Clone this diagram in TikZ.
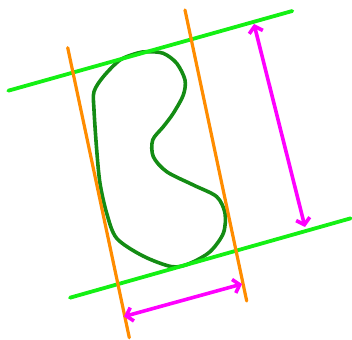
\documentclass[tikz,border=0pt]{standalone}
\usepackage{tikz}
\usetikzlibrary{arrows.meta}

\definecolor{limeline}{RGB}{20,240,20}
\definecolor{blobgreen}{RGB}{20,140,20}
\definecolor{caliper}{RGB}{255,140,0}
\definecolor{widthmark}{RGB}{255,0,255}

\begin{document}
\begin{tikzpicture}[
  x=1pt, y=-1pt,
  support/.style={limeline, line width=3.8pt, line cap=round},
  side/.style={caliper, line width=3.2pt, line cap=round},
  outline/.style={blobgreen, line width=3.6pt, line join=round},
  gauge/.style={widthmark, line width=3.6pt, line cap=round, line join=round,
    {Straight Barb[length=6pt,width=14pt]}-{Straight Barb[length=6pt,width=14pt]}}]
\useasboundingbox (0,0) rectangle (352,339);
% the body
\draw[outline] plot[smooth cycle, tension=0.5] coordinates {
  (146.7,51.7) (163.3,53.3) (176.7,63.3) (185,80) (183.3,95) (173.3,113.3)
  (163.3,126.7) (152.7,140) (153.3,156.7) (166.7,171.7) (193.3,185)
  (216.7,196.7) (225,213.3) (223.3,233.3) (210,251.7) (190,263.3)
  (172,266.7) (143,256) (116.7,238.3) (106.7,213.3)
  (100,183.3) (96.7,150) (94,110) (94,91.7) (103.3,76.7) (120,60)
  (136.7,53.3)};
% supporting lines
\coordinate (topL) at (8.3,90.7);
\coordinate (topR) at (292.3,11);
\coordinate (botL) at (70,297.7);
\coordinate (botR) at (350.7,218.3);
\draw[support] (topL) -- (topR);
\draw[support] (botL) -- (botR);
\coordinate (leftT) at (67.7,47.7);
\coordinate (leftB) at (129.3,337.7);
\coordinate (rightT) at (185,10);
\coordinate (rightB) at (246.7,301);
\draw[side] (leftT) -- (leftB);
\draw[side] (rightT) -- (rightB);
% widths
\coordinate (hA) at (254,24);
\coordinate (hB) at (305,227);
\coordinate (wA) at (124,316.5);
\coordinate (wB) at (242,284);
\draw[gauge] (hA) -- (hB);
\draw[gauge] (wA) -- (wB);
\end{tikzpicture}
\end{document}
